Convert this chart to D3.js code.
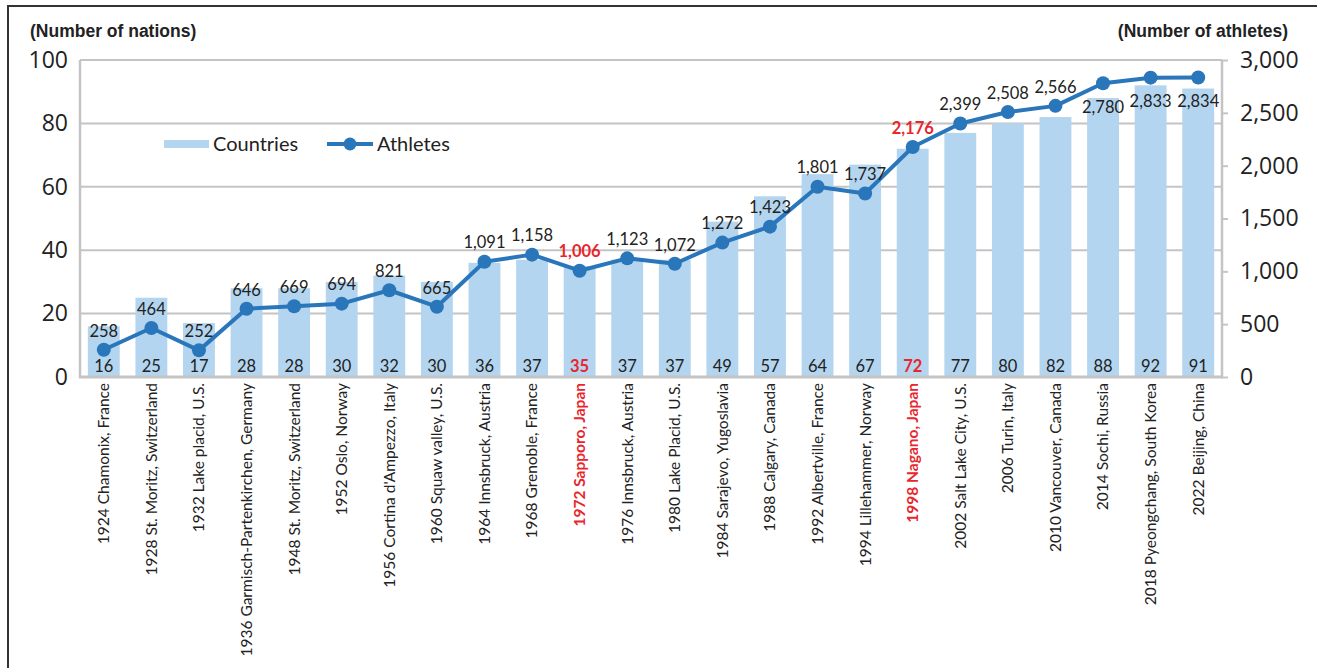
<!DOCTYPE html>
<html>
<head>
<meta charset="utf-8">
<script src="https://cdn.jsdelivr.net/npm/d3@7"></script>
<style>
  html, body { margin: 0; padding: 0; background: #fff; }
  svg { display: block; }
</style>
</head>
<body>
<svg id="chart" width="1317" height="668"></svg>
<script>
// Winter Olympic Games: participating nations (bars) and athletes (line)
const games = [
  "1924 Chamonix, France",
  "1928 St. Moritz, Switzerland",
  "1932 Lake placid, U.S.",
  "1936 Garmisch-Partenkirchen, Germany",
  "1948 St. Moritz, Switzerland",
  "1952 Oslo, Norway",
  "1956 Cortina d'Ampezzo, Italy",
  "1960 Squaw valley, U.S.",
  "1964 Innsbruck, Austria",
  "1968 Grenoble, France",
  "1972 Sapporo, Japan",
  "1976 Innsbruck, Austria",
  "1980 Lake Placid, U.S.",
  "1984 Sarajevo, Yugoslavia",
  "1988 Calgary, Canada",
  "1992 Albertville, France",
  "1994 Lillehammer, Norway",
  "1998 Nagano, Japan",
  "2002 Salt Lake City, U.S.",
  "2006 Turin, Italy",
  "2010 Vancouver, Canada",
  "2014 Sochi, Russia",
  "2018 Pyeongchang, South Korea",
  "2022 Beijing, China"
];
const countries = [16, 25, 17, 28, 28, 30, 32, 30, 36, 37, 35, 37, 37, 49, 57, 64, 67, 72, 77, 80, 82, 88, 92, 91];
const athletes = [258, 464, 252, 646, 669, 694, 821, 665, 1091, 1158, 1006, 1123, 1072, 1272, 1423, 1801, 1737, 2176, 2399, 2508, 2566, 2780, 2833, 2834];
const hostedByJapan = ["1972 Sapporo, Japan", "1998 Nagano, Japan"];
const labelBelow = ["2014 Sochi, Russia", "2018 Pyeongchang, South Korea", "2022 Beijing, China"];
const nationTicks = [0, 20, 40, 60, 80, 100];
const athleteTicks = [0, 500, 1000, 1500, 2000, 2500, 3000];

const svg = d3.select("#chart");
const m = { left: 80, right: 1222, top: 60, bottom: 377 };

const BAR = "#b4d5ef", LINE = "#2a76bb", GRID = "#c4c4c4", TEXT = "#222", RED = "#e8262d";
const labelFont = "Lato, 'Open Sans', sans-serif";
const tickFont = "'Open Sans', 'DejaVu Sans', sans-serif";
const titleFont = "'Liberation Sans', Arial, sans-serif";

const x = d3.scaleBand().domain(games).range([m.left, m.right]).paddingInner(0.33).paddingOuter(0.165);
const yL = d3.scaleLinear().domain([0, 100]).range([m.bottom, m.top]);
const yR = d3.scaleLinear().domain([0, 3000]).range([m.bottom, m.top]);
const cx = d => x(d) + x.bandwidth() / 2;
const isJapan = d => hostedByJapan.includes(d);

// outer frame (top and left edges)
svg.append("path")
  .attr("d", "M8,668 V6 H1317")
  .attr("fill", "none").attr("stroke", "#333").attr("stroke-width", 2);

// gridlines
svg.append("g").selectAll("line").data(nationTicks.filter(t => t > 0)).join("line")
  .attr("x1", m.left).attr("x2", m.right)
  .attr("y1", d => yL(d)).attr("y2", d => yL(d))
  .attr("stroke", GRID).attr("stroke-width", 2);

// bars
svg.append("g").selectAll("rect").data(games).join("rect")
  .attr("x", d => x(d)).attr("width", x.bandwidth())
  .attr("y", (d, i) => yL(countries[i]))
  .attr("height", (d, i) => yL(0) - yL(countries[i]))
  .attr("fill", BAR);

// axes lines
svg.append("line").attr("x1", m.left).attr("x2", m.left).attr("y1", m.top).attr("y2", m.bottom + 1)
  .attr("stroke", GRID).attr("stroke-width", 2.5);
svg.append("line").attr("x1", m.right).attr("x2", m.right).attr("y1", m.top).attr("y2", m.bottom + 1)
  .attr("stroke", GRID).attr("stroke-width", 2.5);
svg.append("line").attr("x1", m.left - 1).attr("x2", m.right + 1).attr("y1", m.bottom).attr("y2", m.bottom)
  .attr("stroke", GRID).attr("stroke-width", 3);

// left axis
const leftAxis = svg.append("g").attr("transform", `translate(${m.left},0)`)
  .call(d3.axisLeft(yL).tickValues(nationTicks).tickSize(0).tickPadding(12));
leftAxis.select(".domain").remove();
leftAxis.selectAll("text").attr("font-family", tickFont).attr("font-size", 23).attr("fill", TEXT);

// right axis
const rightAxis = svg.append("g").attr("transform", `translate(${m.right},0)`)
  .call(d3.axisRight(yR).tickValues(athleteTicks).tickSize(6).tickPadding(12).tickFormat(d3.format(",")));
rightAxis.select(".domain").remove();
rightAxis.selectAll("line").attr("stroke", GRID).attr("stroke-width", 2);
rightAxis.selectAll("text").attr("font-family", tickFont).attr("font-size", 23).attr("fill", TEXT);

// category labels (rotated)
const xAxis = svg.append("g").attr("transform", `translate(0,${m.bottom})`)
  .call(d3.axisBottom(x).tickSize(0).tickPadding(0));
xAxis.select(".domain").remove();
xAxis.selectAll("text")
  .attr("font-family", labelFont).attr("font-size", 15.5)
  .attr("fill", d => isJapan(d) ? RED : TEXT)
  .attr("font-weight", d => isJapan(d) ? "bold" : "normal")
  .attr("text-anchor", "end")
  .attr("dy", "0.35em")
  .attr("transform", "translate(0,6) rotate(-90)")
  .attr("y", 0).attr("x", 0);

// athletes line + markers
svg.append("path").datum(athletes)
  .attr("d", d3.line().x((d, i) => cx(games[i])).y(d => yR(d)))
  .attr("fill", "none").attr("stroke", LINE).attr("stroke-width", 4).attr("stroke-linejoin", "round");
svg.append("g").selectAll("circle").data(games).join("circle")
  .attr("cx", d => cx(d)).attr("cy", (d, i) => yR(athletes[i]))
  .attr("r", 7).attr("fill", LINE);

// country value labels
svg.append("g").selectAll("text").data(games).join("text")
  .attr("x", d => cx(d)).attr("y", 366).attr("dy", "0.35em")
  .attr("text-anchor", "middle")
  .attr("font-family", labelFont).attr("font-size", 16.5)
  .attr("font-weight", d => isJapan(d) ? "bold" : "normal")
  .attr("fill", d => isJapan(d) ? RED : TEXT)
  .text((d, i) => countries[i]);

// athlete value labels
const fmt = d3.format(",");
svg.append("g").selectAll("text").data(games).join("text")
  .attr("x", d => cx(d))
  .attr("y", (d, i) => yR(athletes[i]) + (labelBelow.includes(d) ? 24 : -19))
  .attr("dy", "0.35em")
  .attr("text-anchor", "middle")
  .attr("font-family", labelFont).attr("font-size", 16.5)
  .attr("font-weight", d => isJapan(d) ? "bold" : "normal")
  .attr("fill", d => isJapan(d) ? RED : TEXT)
  .text((d, i) => fmt(athletes[i]));

// axis titles
svg.append("text").attr("x", 30).attr("y", 37)
  .attr("font-family", titleFont).attr("font-size", 17.5).attr("font-weight", "bold").attr("fill", TEXT)
  .text("(Number of nations)");
svg.append("text").attr("x", 1288).attr("y", 37).attr("text-anchor", "end")
  .attr("font-family", titleFont).attr("font-size", 17.5).attr("font-weight", "bold").attr("fill", TEXT)
  .text("(Number of athletes)");

// legend
const legend = svg.append("g").attr("transform", "translate(164,144)");
legend.append("rect").attr("x", 0).attr("y", -4).attr("width", 45).attr("height", 8).attr("fill", BAR);
legend.append("text").attr("x", 49).attr("y", 0).attr("dy", "0.35em")
  .attr("font-family", labelFont).attr("font-size", 20).attr("fill", TEXT).text("Countries");
legend.append("line").attr("x1", 163).attr("x2", 209).attr("y1", 0).attr("y2", 0)
  .attr("stroke", LINE).attr("stroke-width", 4);
legend.append("circle").attr("cx", 186).attr("cy", 0).attr("r", 6.5).attr("fill", LINE);
legend.append("text").attr("x", 213).attr("y", 0).attr("dy", "0.35em")
  .attr("font-family", labelFont).attr("font-size", 20).attr("fill", TEXT).text("Athletes");
</script>
</body>
</html>
